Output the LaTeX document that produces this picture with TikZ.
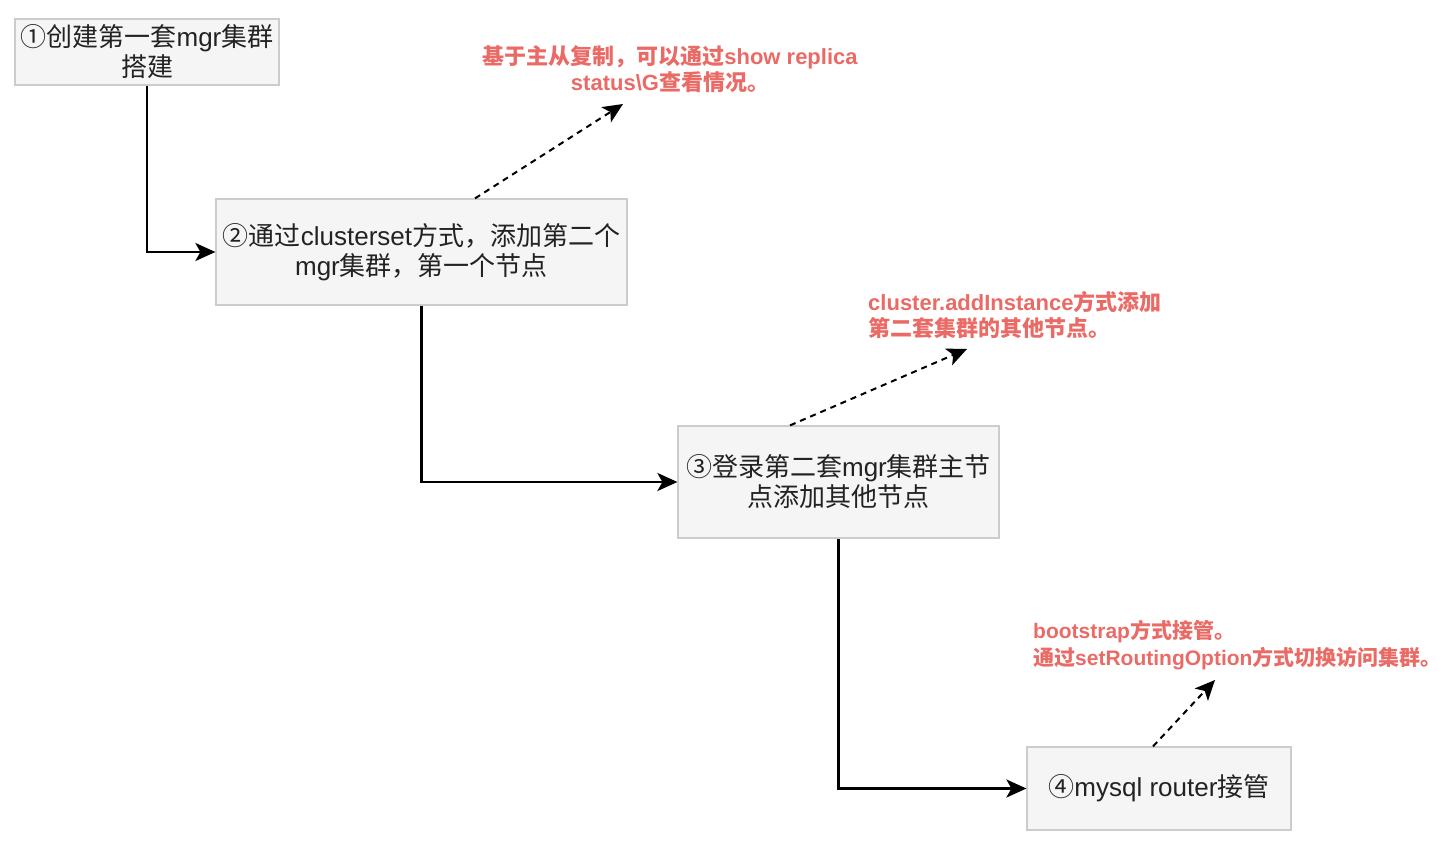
\documentclass[tikz,border=0pt]{standalone}
\usepackage{fontspec}
\setmainfont{Liberation Sans}
\newfontfamily\cjk{Noto Sans CJK SC}
\usetikzlibrary{arrows.meta}
\definecolor{boxfill}{HTML}{F5F5F5}
\definecolor{boxline}{HTML}{CCCCCC}
\definecolor{notecol}{HTML}{EA6B66}
\definecolor{txtcol}{HTML}{222222}
\newcommand\zh[1]{{\cjk #1}}
\begin{document}
\begin{tikzpicture}[x=1pt,y=-1pt,
  stepbox/.style={draw=boxline,fill=boxfill,line width=1.2pt,rectangle,inner sep=0pt,
    align=center,text=txtcol,font=\fontsize{26}{30}\selectfont},
  notelabel/.style={inner sep=0pt,text=notecol,font=\fontsize{22}{26.5}\selectfont\bfseries},
  conn/.style={draw=black,line width=2.3pt,-{Stealth[length=20pt,width=18pt,inset=5pt]}},
  dconn/.style={draw=black,line width=2pt,dash pattern=on 6pt off 5pt,-{Stealth[length=20pt,width=18pt,inset=5pt]}}]
\useasboundingbox (0,0) rectangle (1453,842);
\node[stepbox,minimum width=264pt,minimum height=66pt] (b1) at (147,52)
  {\zh{①创建第一套}mgr\zh{集群}\\\zh{搭建}};
\node[stepbox,minimum width=411pt,minimum height=106pt] (b2) at (421.5,252)
  {\zh{②通过}clusterset\zh{方式，添加第二个}\\mgr\zh{集群，第一个节点}};
\node[stepbox,minimum width=321pt,minimum height=112pt] (b3) at (838.5,482)
  {\zh{③登录第二套}mgr\zh{集群主节}\\\zh{点添加其他节点}};
\node[stepbox,minimum width=264pt,minimum height=83pt] (b4) at (1159,788.5)
  {\zh{④}mysql router\zh{接管}};
\node[notelabel,align=center] (n1) at (670,69)
  {\zh{基于主从复制，可以通过}show replica\\status\textbackslash G\zh{查看情况。}};
\node[notelabel,align=left,anchor=west] (n2) at (868,315)
  {cluster.addInstance\zh{方式添加}\\\zh{第二套集群的其他节点。}};
\node[notelabel,align=left,anchor=west,font=\fontsize{21}{26.5}\selectfont\bfseries] (n3) at (1033,645)
  {bootstrap\zh{方式接管。}\\\zh{通过}setRoutingOption\zh{方式切换访问集群。}};
\coordinate (e1) at (623,104);
\coordinate (e2) at (967,349);
\coordinate (e3) at (1215,680);
\draw[conn] (b1.south) |- (b2.west);
\draw[conn] (b2.south) |- (b3.west);
\draw[conn] (b3.south) |- (b4.west);
\draw[dconn] ([xshift=53.5pt]b2.north) -- (e1);
\draw[dconn] ([xshift=-48.5pt]b3.north) -- (e2);
\draw[dconn] ([xshift=-6pt]b4.north) -- (e3);
\end{tikzpicture}
\end{document}
